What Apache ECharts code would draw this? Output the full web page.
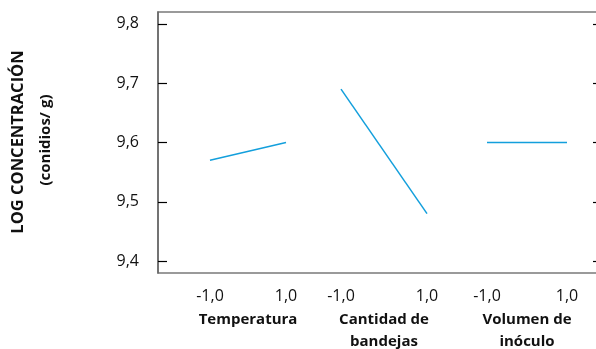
<!DOCTYPE html>
<html>
<head>
<meta charset="utf-8">
<script src="https://cdn.jsdelivr.net/npm/echarts@6/dist/echarts.min.js"></script>
<style>
  html, body { margin: 0; padding: 0; background: #fff; }
  #chart { width: 596px; height: 349px; }
</style>
</head>
<body>
<div id="chart"></div>
<script>
// Factor levels and mean log concentration for each factor (main effects)
const factors = ['Temperatura', 'Cantidad de\nbandejas', 'Volumen de\ninóculo'];
const levels = [-1, 1];
const temperatura = [9.57, 9.60];
const cantidadBandejas = [9.69, 9.48];
const volumenInoculo = [9.60, 9.60];
const yTicks = [9.4, 9.5, 9.6, 9.7, 9.8];
const yTitle = 'LOG CONCENTRACIÓN';
const ySubtitle = '(conidios/ g)';

const seriesValues = [temperatura, cantidadBandejas, volumenInoculo];
const FONT = '"Open Sans", "Noto Sans", sans-serif';
const Y_MIN = 9.38, Y_MAX = 9.82;
const comma = v => v.toFixed(1).replace('.', ',');

// panel placement (px)
const panels = [
  { left: 210, width: 76 },
  { left: 341, width: 86 },
  { left: 487, width: 80 }
];
const TOP = 12, HEIGHT = 261;

const grids = [{ left: 158, top: TOP, width: 440, height: HEIGHT, show: true,
  outerBoundsMode: 'none',
  borderColor: '#7a7a7a', borderWidth: 1.5, backgroundColor: 'transparent' }];
const xAxes = [{ gridIndex: 0, type: 'value', min: 0, max: 1, show: false }];
const yAxes = [
  { gridIndex: 0, type: 'value', min: Y_MIN, max: Y_MAX, position: 'left',
    axisLine: { show: true, lineStyle: { color: '#666', width: 1.5 } },
    axisTick: { show: true, inside: true, length: 9, customValues: yTicks,
      lineStyle: { color: '#000', width: 1.2 } },
    axisLabel: { customValues: yTicks, formatter: comma, margin: 19,
      fontFamily: FONT, fontSize: 16, color: '#111' },
    splitLine: { show: false } },
  { gridIndex: 0, type: 'value', min: Y_MIN, max: Y_MAX, position: 'right',
    axisLine: { show: true, lineStyle: { color: '#666', width: 1.5 } },
    axisTick: { show: true, inside: true, length: 5, customValues: yTicks,
      lineStyle: { color: '#000', width: 1.2 } },
    axisLabel: { show: false }, splitLine: { show: false } }
];
const series = [];

panels.forEach((p, i) => {
  const g = i + 1;
  grids.push({ left: p.left, width: p.width, top: TOP, height: HEIGHT,
    outerBoundsMode: 'none' });
  xAxes.push({
    gridIndex: g, type: 'value', min: -1, max: 1,
    axisLine: { show: false }, axisTick: { show: false }, splitLine: { show: false },
    axisLabel: { customValues: levels, formatter: comma, margin: 15,
      fontFamily: FONT, fontSize: 16, color: '#111' },
    name: factors[i], nameLocation: 'middle', nameGap: 34,
    nameTextStyle: { fontFamily: FONT, fontSize: 15, fontWeight: 'bold',
      color: '#111', lineHeight: 22, verticalAlign: 'top' }
  });
  yAxes.push({ gridIndex: g, type: 'value', min: Y_MIN, max: Y_MAX, show: false });
  series.push({
    type: 'line', xAxisIndex: g, yAxisIndex: i + 2,
    data: levels.map((x, k) => [x, seriesValues[i][k]]),
    showSymbol: false, symbol: 'none', silent: true,
    lineStyle: { color: '#139fdc', width: 1.5 }
  });
});

const chart = echarts.init(document.getElementById('chart'), null, { renderer: 'canvas' });
chart.setOption({
  animation: false,
  grid: grids,
  xAxis: xAxes,
  yAxis: yAxes,
  series: series,
  graphic: [
    { type: 'text', x: 18, y: 142, rotation: Math.PI / 2,
      style: { text: yTitle, fontFamily: FONT, fontSize: 16.5, fontWeight: 'bold',
        fill: '#111', align: 'center', verticalAlign: 'middle' } },
    { type: 'text', x: 46, y: 140, rotation: Math.PI / 2,
      style: { text: ySubtitle, fontFamily: FONT, fontSize: 15, fontWeight: 'bold',
        fill: '#111', align: 'center', verticalAlign: 'middle' } }
  ]
});
</script>
</body>
</html>
